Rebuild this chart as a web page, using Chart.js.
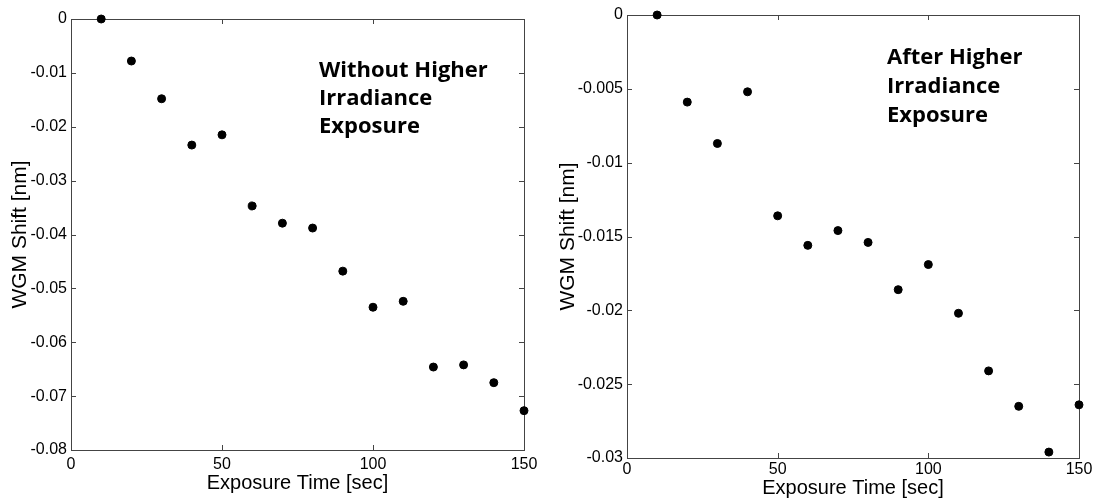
<!DOCTYPE html>
<html>
<head>
<meta charset="utf-8">
<script src="https://cdn.jsdelivr.net/npm/chart.js@4"></script>
<style>
  body { margin: 0; background: #fff; }
  #wrap { position: relative; width: 1097px; height: 500px; }
  .box { position: absolute; top: 0; height: 500px; }
</style>
</head>
<body>
<div id="wrap">
  <div class="box" style="left:0;width:548px"><canvas id="leftChart" width="548" height="500"></canvas></div>
  <div class="box" style="left:548px;width:549px"><canvas id="rightChart" width="549" height="500"></canvas></div>
</div>
<script>
// exposure times (sec)
const exposureTimes = [10, 20, 30, 40, 50, 60, 70, 80, 90, 100, 110, 120, 130, 140, 150];
// WGM shift (nm)
const shiftWithout = [0, -0.0078, -0.0148, -0.0234, -0.0215, -0.0347, -0.0379, -0.0388, -0.0468, -0.0535, -0.0524, -0.0646, -0.0642, -0.0675, -0.0727];
const shiftAfter = [0, -0.0059, -0.0087, -0.0052, -0.0136, -0.0156, -0.0146, -0.0154, -0.0186, -0.0169, -0.0202, -0.0241, -0.0265, -0.0296, -0.0264];

const xTicks = [0, 50, 100, 150];
const yTicksWithout = [0, -0.01, -0.02, -0.03, -0.04, -0.05, -0.06, -0.07, -0.08];
const yTicksAfter = [0, -0.005, -0.01, -0.015, -0.02, -0.025, -0.03];

const noteWithout = ['Without Higher', 'Irradiance', 'Exposure'];
const noteAfter = ['After Higher', 'Irradiance', 'Exposure'];

const axisColor = '#444';
const tickFont = { family: '"Liberation Sans", Arial, sans-serif', size: 16 };
const titleFont = { family: '"Liberation Sans", Arial, sans-serif', size: 20, lineHeight: 1 };

// box around the plot with matlab style inward ticks
const framePlugin = {
  id: 'frame',
  beforeDatasetsDraw(chart) {
    const { ctx, chartArea: a, scales: { x, y } } = chart;
    ctx.save();
    ctx.strokeStyle = axisColor;
    ctx.lineWidth = 1;
    ctx.strokeRect(Math.round(a.left) + 0.5, Math.round(a.top) + 0.5, Math.round(a.right - a.left), Math.round(a.bottom - a.top));
    ctx.beginPath();
    x.ticks.forEach(t => {
      const px = Math.round(x.getPixelForValue(t.value)) + 0.5;
      ctx.moveTo(px, a.bottom); ctx.lineTo(px, a.bottom - 5);
      ctx.moveTo(px, a.top); ctx.lineTo(px, a.top + 5);
    });
    y.ticks.forEach(t => {
      const py = Math.round(y.getPixelForValue(t.value)) + 0.5;
      ctx.moveTo(a.left, py); ctx.lineTo(a.left + 5, py);
      ctx.moveTo(a.right, py); ctx.lineTo(a.right - 5, py);
    });
    ctx.stroke();
    ctx.restore();
  },
  afterDraw(chart, args, opts) {
    const ctx = chart.ctx;
    ctx.save();
    ctx.fillStyle = '#000';
    ctx.font = 'bold 22px "Open Sans", sans-serif';
    ctx.textBaseline = 'alphabetic';
    opts.lines.forEach((s, i) => ctx.fillText(s, opts.x, opts.y + i * opts.gap));
    ctx.restore();
  }
};

function makeChart(id, values, yTicks, cfg) {
  new Chart(document.getElementById(id), {
    type: 'scatter',
    data: {
      datasets: [{
        data: exposureTimes.map((t, i) => ({ x: t, y: values[i] })),
        backgroundColor: '#000',
        borderColor: '#000',
        pointRadius: 4,
        pointHoverRadius: 4,
        clip: false
      }]
    },
    options: {
      responsive: false,
      animation: false,
      layout: { padding: cfg.padding },
      plugins: {
        legend: { display: false },
        tooltip: { enabled: false },
        frame: cfg.note
      },
      scales: {
        x: {
          min: 0, max: 150,
          grid: { display: false, drawTicks: false },
          border: { display: false },
          afterBuildTicks: s => { s.ticks = xTicks.map(v => ({ value: v })); },
          afterFit: s => { s.height = cfg.xHeight; },
          ticks: { color: '#000', font: tickFont, padding: cfg.xTickPad, maxRotation: 0, callback: v => String(v) },
          title: { display: true, text: 'Exposure Time [sec]', color: '#000', font: titleFont, padding: 0 }
        },
        y: {
          min: yTicks[yTicks.length - 1], max: 0,
          grid: { display: false, drawTicks: false },
          border: { display: false },
          afterBuildTicks: s => { s.ticks = yTicks.map(v => ({ value: v })); },
          afterFit: s => { s.width = cfg.yWidth; },
          ticks: { color: '#000', font: tickFont, padding: 4, callback: v => String(v) },
          title: { display: true, text: 'WGM Shift [nm]', color: '#000', font: { ...titleFont, size: 21 }, padding: { top: 10, bottom: 0 } }
        }
      }
    },
    plugins: [framePlugin]
  });
}

makeChart('leftChart', shiftWithout, yTicksWithout, {
  padding: { top: 19, right: 24, bottom: 7, left: 0 },
  xHeight: 43, yWidth: 71, xTickPad: 5,
  note: { lines: noteWithout, x: 319, y: 77, gap: 28 }
});
makeChart('rightChart', shiftAfter, yTicksAfter, {
  padding: { top: 15, right: 18, bottom: 2, left: 0 },
  xHeight: 40, yWidth: 79, xTickPad: 2,
  note: { lines: noteAfter, x: 339, y: 63.5, gap: 29 }
});
</script>
</body>
</html>
